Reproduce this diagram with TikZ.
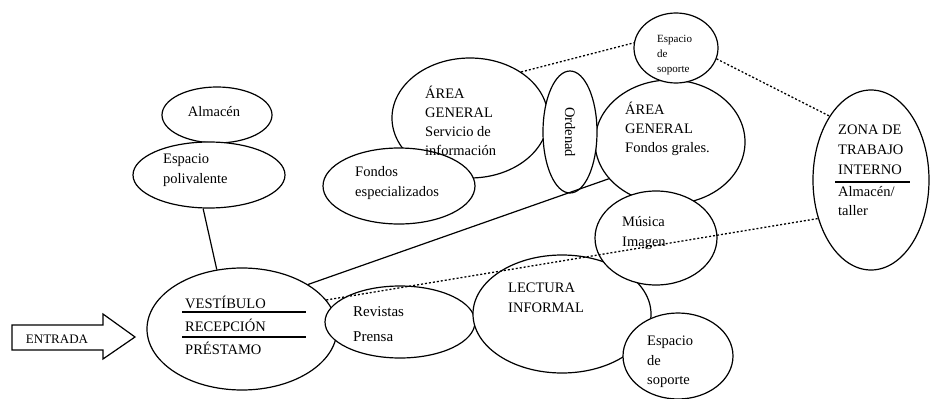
\documentclass[tikz,border=0pt]{standalone}
\usepackage{fontspec}
\setmainfont{Liberation Serif}
\usetikzlibrary{shapes.geometric}
\begin{document}
\begin{tikzpicture}[x=1pt,y=-1pt,
  ell/.style={draw, ellipse, fill=white, inner sep=0pt, line width=1.2pt},
  conn/.style={line width=1.2pt},
  dotln/.style={line width=1.3pt, dash pattern=on 2pt off 2pt},
  txt/.style={inner sep=0pt, align=left, anchor=west, font=\fontsize{14.5}{19.5}\selectfont},
  small/.style={inner sep=0pt, align=left, anchor=west, font=\fontsize{11}{15}\selectfont},
  rulel/.style={line width=1.3pt}]
\useasboundingbox (0,0) rectangle (930,399);
% ellipses
\node[ell, minimum width=110, minimum height=56] (alm) at (217,115) {};
\node[ell, minimum width=152, minimum height=66] (poli) at (209,175) {};
\node[ell, minimum width=190, minimum height=122] (vest) at (242,329) {};
\node[ell, minimum width=150, minimum height=72] (rev) at (400,322) {};
\node[ell, minimum width=178, minimum height=118] (lect) at (562,314) {};
\node[ell, minimum width=110, minimum height=86] (espb) at (678,356) {};
\node[ell, minimum width=150, minimum height=124] (fg) at (670,142) {};
\node[ell, minimum width=122, minimum height=94] (mus) at (656,238) {};
\node[ell, minimum width=84, minimum height=70] (espt) at (676,48) {};
\node[ell, minimum width=156, minimum height=120] (sv) at (470,118) {};
\node[ell, minimum width=152, minimum height=76] (fe) at (399,186) {};
\node[ell, minimum width=54, minimum height=122] (ord) at (570,132) {};
\node[ell, minimum width=116, minimum height=180] (zona) at (871,180) {};
% connectors
\draw[conn] (poli.260) -- (vest.113);
\draw[conn] (vest.34) -- (fg.211);
\draw[dotln] (sv.42) -- (espt.173);
\draw[dotln] (espt.-15) -- (zona.123);
\draw[dotln] (vest.19) -- (zona.216);
% entrance arrow
\draw[line width=1.2pt] (12,325) -- (103,325) -- (103,314) -- (135,337) -- (103,359) -- (103,350) -- (12,350) -- cycle;
\node[inner sep=0pt, font=\fontsize{13}{15}\selectfont] (entrada) at (57,339) {ENTRADA};
% texts
\node[inner sep=0pt, font=\fontsize{14.5}{19.5}\selectfont] (talm) at (214,112) {Almacén};
\node[txt] (tpoli) at (163,170) {Espacio\\polivalente};
\node[txt, font=\fontsize{14.5}{23}\selectfont] (tvest) at (185,325) {VESTÍBULO\\RECEPCIÓN\\PRÉSTAMO};
\draw[rulel] (182,312) -- (306,312);
\draw[rulel] (182,337) -- (306,337);
\node[txt, font=\fontsize{15}{25}\selectfont] (trev) at (353,324) {Revistas\\Prensa};
\node[txt] (tlect) at (508,298) {LECTURA\\INFORMAL};
\node[txt] (tespb) at (647,362) {Espacio\\de\\soporte};
\node[txt] (tmus) at (622,233) {Música\\Imagen};
\node[txt, font=\fontsize{14.5}{19}\selectfont] (tfg) at (625,129) {ÁREA\\GENERAL\\Fondos grales.};
\node[small] (tespt) at (657,55) {Espacio\\de\\soporte};
\node[txt, font=\fontsize{14.5}{19}\selectfont] (tsv) at (425,121) {ÁREA\\GENERAL\\Servicio de\\información};
\node[txt] (tfe) at (355,183) {Fondos\\especializados};
\node[inner sep=0pt, rotate=-90, font=\fontsize{14.5}{17}\selectfont] (tord) at (570,132) {Ordenad};
\node[txt, font=\fontsize{14.5}{20}\selectfont] (tzona) at (838,150) {ZONA DE\\TRABAJO\\INTERNO};
\draw[rulel] (835,182) -- (910,182);
\node[txt, font=\fontsize{14.5}{19}\selectfont] (talt) at (838,201) {Almacén/\\taller};
\end{tikzpicture}
\end{document}
